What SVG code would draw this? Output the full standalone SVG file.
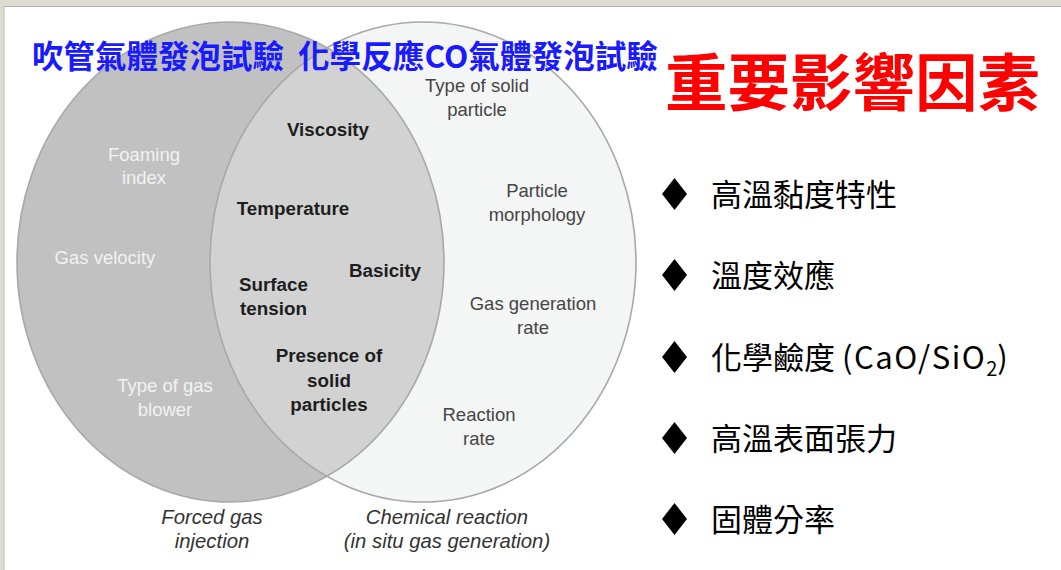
<svg xmlns="http://www.w3.org/2000/svg" width="1061" height="570" viewBox="0 0 1061 570">
<style>
.lbl{font-family:"Liberation Sans",Arial,sans-serif;font-size:18.5px;text-anchor:middle}
.w{fill:#f2f2f2}
.b{fill:#1e1e1e;font-weight:bold;font-size:18.8px}
.g{fill:#454545}
.it{fill:#333;font-style:italic;font-size:20.3px}
.cjk{font-family:"Noto Sans CJK TC","Noto Sans CJK SC",sans-serif}
.bul{font-family:"Noto Sans CJK TC","Noto Sans CJK SC",sans-serif;font-size:31px;fill:#000}
.dia{fill:#000}
.edge{fill:none;stroke:#a8a8a8;stroke-width:1.6}
</style>
<defs>
<clipPath id="clipL"><ellipse cx="230.5" cy="262" rx="213.5" ry="240"/></clipPath>
</defs>
<rect x="0" y="0" width="1061" height="570" fill="#ffffff"/>
<g id="frame">
<rect x="0" y="0" width="1061" height="6" fill="#dedcd1"/>
<rect x="0" y="0" width="3.5" height="570" fill="#dedcd1"/>
<line x1="3.5" y1="6.5" x2="1061" y2="6.5" stroke="#b8b6ac" stroke-width="1"/>
<line x1="4" y1="6.5" x2="4" y2="570" stroke="#b8b6ac" stroke-width="1"/>
</g>
<g id="set-forced">
<ellipse cx="230.5" cy="262" rx="213.5" ry="240" fill="#c1c1c1"/>
</g>
<g id="set-chemical">
<ellipse cx="423" cy="262" rx="213" ry="240" fill="#f4f5f5"/>
</g>
<g id="set-overlap">
<ellipse cx="423" cy="262" rx="213" ry="240" fill="#d2d2d2" clip-path="url(#clipL)"/>
<ellipse class="edge" cx="230.5" cy="262" rx="213.5" ry="240"/>
<ellipse class="edge" cx="423" cy="262" rx="213" ry="240"/>
</g>
<g id="connectors"/>
<g id="labels-forced" class="lbl w">
<text x="144" y="161">Foaming</text>
<text x="144" y="184">index</text>
<text x="105" y="264">Gas velocity</text>
<text x="165" y="392">Type of gas</text>
<text x="165" y="416">blower</text>
</g>
<g id="labels-common" class="lbl b">
<text x="328" y="136">Viscosity</text>
<text x="293" y="215">Temperature</text>
<text x="385" y="277">Basicity</text>
<text x="273.5" y="291">Surface</text>
<text x="273.5" y="315">tension</text>
<text x="329" y="362">Presence of</text>
<text x="329" y="387">solid</text>
<text x="329" y="411">particles</text>
</g>
<g id="labels-chemical" class="lbl g">
<text x="477" y="92">Type of solid</text>
<text x="477" y="116">particle</text>
<text x="537" y="197">Particle</text>
<text x="537" y="221">morphology</text>
<text x="533" y="310">Gas generation</text>
<text x="533" y="334">rate</text>
<text x="479" y="421">Reaction</text>
<text x="479" y="445">rate</text>
</g>
<g id="caption-forced" class="lbl it">
<text x="212" y="524">Forced gas</text>
<text x="212" y="548">injection</text>
</g>
<g id="caption-chemical" class="lbl it">
<text x="447" y="524">Chemical reaction</text>
<text x="447" y="548">(in situ gas generation)</text>
</g>
<g id="title-left">
<text class="cjk" x="32" y="68" font-size="31.5" font-weight="bold" fill="#1a1aff">吹管氣體發泡試驗</text>
</g>
<g id="title-right">
<text class="cjk" x="298" y="68" font-size="31.5" font-weight="bold" fill="#1a1aff" textLength="360" lengthAdjust="spacingAndGlyphs">化學反應CO氣體發泡試驗</text>
</g>
<g id="heading">
<text class="cjk" x="665" y="106" font-size="62" font-weight="bold" fill="#ff0000" textLength="375" lengthAdjust="spacingAndGlyphs">重要影響因素</text>
</g>
<g id="bullet-1">
<polygon class="dia" points="674.5,178 687,194 674.5,210 662,194"/>
<text class="bul" x="711" y="206">高溫黏度特性</text>
</g>
<g id="bullet-2">
<polygon class="dia" points="674.5,259 687,275 674.5,291 662,275"/>
<text class="bul" x="711" y="287">溫度效應</text>
</g>
<g id="bullet-3">
<polygon class="dia" points="674.5,341 687,357 674.5,373 662,357"/>
<text class="bul" x="711" y="369">化學鹼度 <tspan letter-spacing="1.5">(CaO/SiO</tspan><tspan font-size="20" dy="7">2</tspan><tspan dy="-7">)</tspan></text>
</g>
<g id="bullet-4">
<polygon class="dia" points="674.5,422 687,438 674.5,454 662,438"/>
<text class="bul" x="711" y="450">高溫表面張力</text>
</g>
<g id="bullet-5">
<polygon class="dia" points="674.5,503 687,519 674.5,535 662,519"/>
<text class="bul" x="711" y="531">固體分率</text>
</g>
</svg>
